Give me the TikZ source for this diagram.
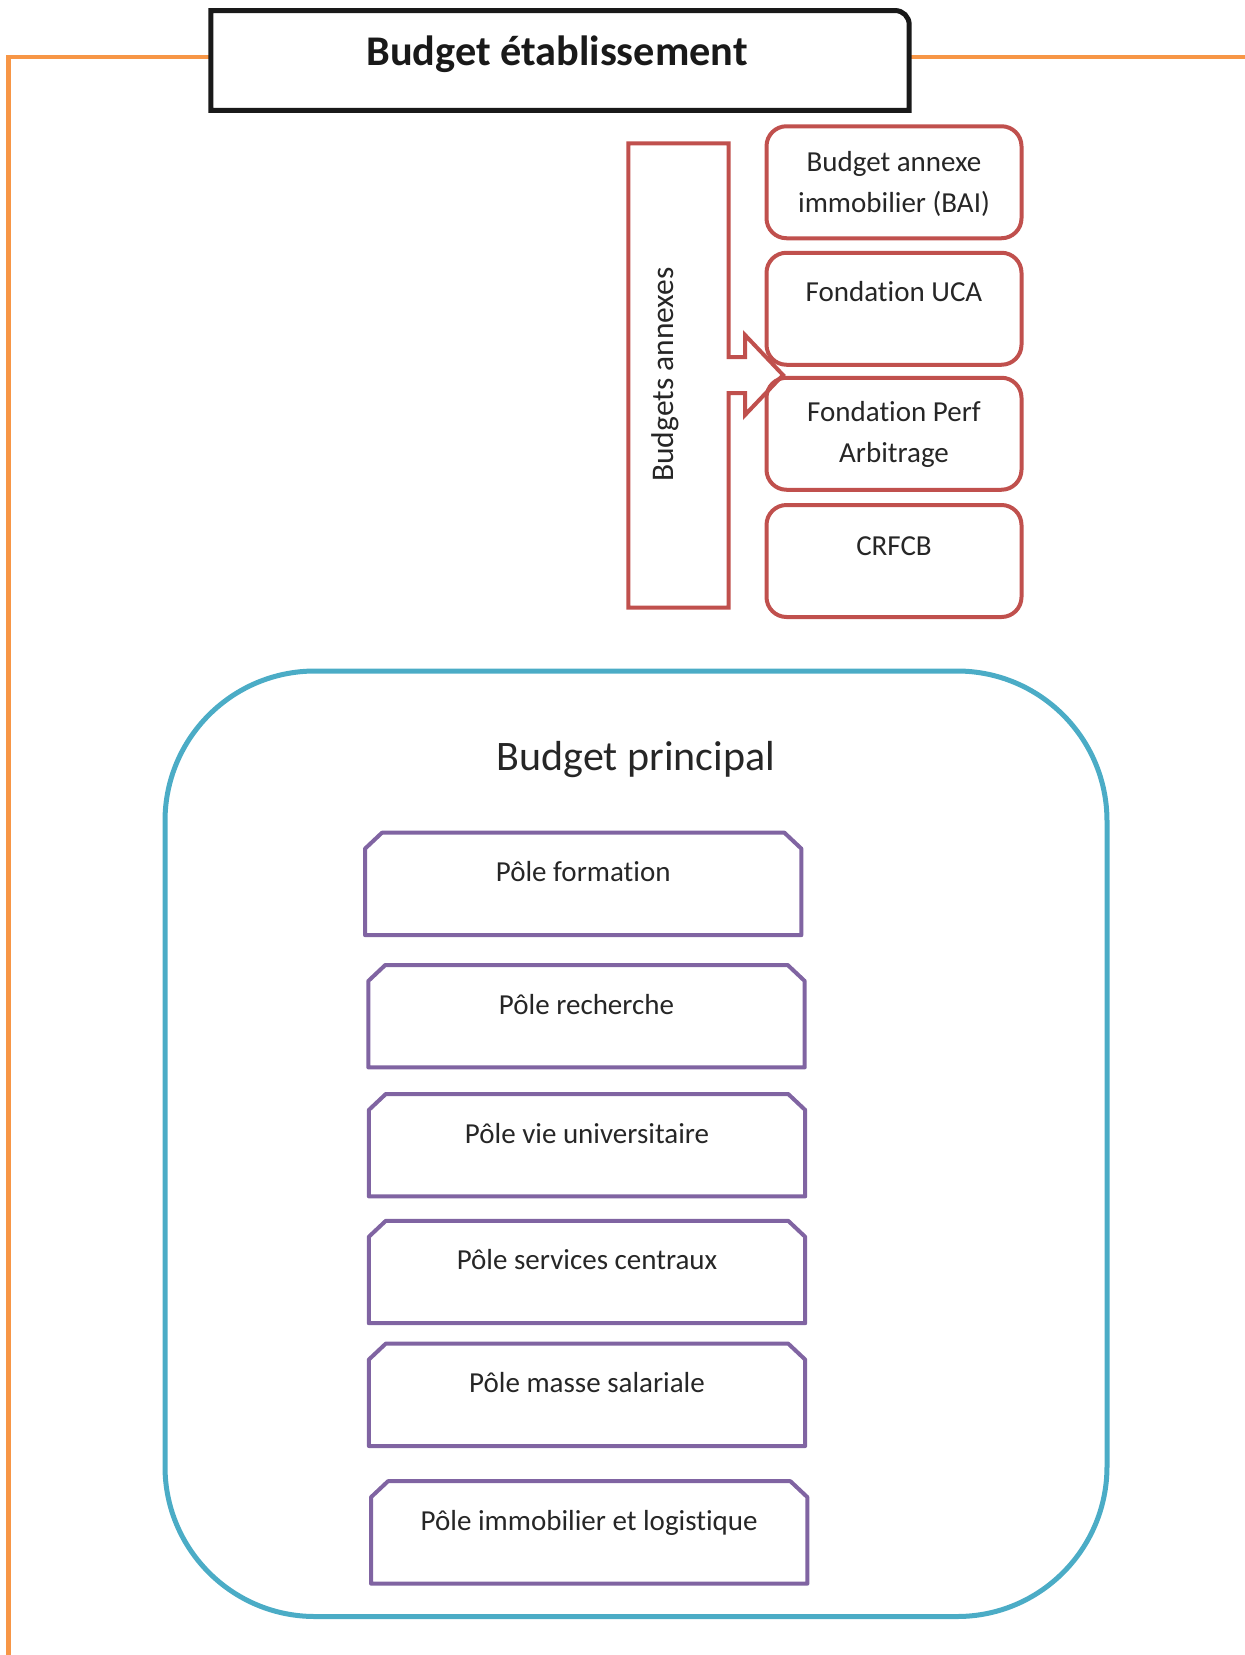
\documentclass[tikz,border=0pt]{standalone}
\usepackage{fontspec}
\setmainfont{Carlito}[Ligatures=NoCommon]
\definecolor{orangeline}{HTML}{F79646}
\definecolor{redline}{HTML}{C0504D}
\definecolor{purpline}{HTML}{8064A2}
\definecolor{tealline}{HTML}{4BACC6}
\definecolor{txtgray}{HTML}{262626}
\tikzset{
  redbox/.style={draw=redline, line width=4pt, rounded corners=20pt, minimum width=255pt, minimum height=112pt, inner sep=0pt},
  polebox/.style={minimum width=436pt, minimum height=102pt, inner sep=0pt},
  poleline/.style={draw=purpline, line width=4pt, line join=round},
  smalltxt/.style={font=\fontsize{29}{41}\selectfont, text=txtgray, inner sep=0pt, anchor=base},
  bigtxt/.style={font=\fontsize{42}{50}\selectfont, text=txtgray, inner sep=0pt, anchor=base},
}
\begin{document}
\begin{tikzpicture}[x=1pt, y=-1pt]
\useasboundingbox (0,0) rectangle (1245,1655);

% title box
\node[minimum width=698pt, minimum height=99.5pt, inner sep=0pt] (title) at (560,60.5) {};
\node[bigtxt, font=\fontsize{42.3}{50}\selectfont\bfseries, text=black!90] (titletxt) at (557,65) {Budget établissement};

% orange frame line
\coordinate (oBL) at (8.5,1655);
\coordinate (oTL) at (8.5,57);
\coordinate (oTR) at (1245,57);
\draw[orangeline, line width=4.5pt, line join=miter] (oBL) -- (oTL) -- (oTL -| title.west);
\draw[orangeline, line width=4.5pt] (oTR -| title.east) -- (oTR);

\draw[black!90, line width=5pt] (title.south west) -- (title.north west) -- ([xshift=-14pt]title.north east) arc[start angle=90, end angle=0, radius=14pt] -- (title.south east) -- cycle;

% budgets annexes
\node[minimum width=100pt, minimum height=464pt, inner sep=0pt] (annex) at (678.5,375.5) {};
\draw[redline, line width=4pt, line join=miter]
  (annex.north west) -- (annex.north east) -- (728.5,357) -- (745,357) -- (745,335) -- (783,375)
  -- (745,415) -- (745,393) -- (728.5,393) -- (annex.south east) -- (annex.south west) -- cycle;
\node[rotate=90, anchor=base, font=\fontsize{31.5}{38}\selectfont, text=txtgray, inner sep=0pt] (annextxt) at (673,374.5) {Budgets annexes};

\node[redbox] (bai) at (894,182.25) {};
\node[redbox] (fuca) at (894,308.75) {};
\node[redbox] (fperf) at (894,433.75) {};
\node[redbox] (crfcb) at (894,561) {};

\node[smalltxt] (baitxt) at (894,171.5) {\begin{tabular}[t]{@{}c@{}}Budget annexe\\immobilier (BAI)\end{tabular}};
\node[smalltxt] (fucatxt) at (894,301.7) {Fondation UCA};
\node[smalltxt] (fperftxt) at (894,421.7) {\begin{tabular}[t]{@{}c@{}}Fondation Perf\\Arbitrage\end{tabular}};
\node[smalltxt] (crfcbtxt) at (894,555) {CRFCB};

% budget principal
\node[draw=tealline, line width=5pt, rounded corners=150pt, minimum width=942pt, minimum height=945.5pt, inner sep=0pt] (main) at (636,1143.75) {};
\node[bigtxt] (maintxt) at (636,770) {Budget principal};

% poles
\foreach \n/\cx/\cy/\lab in {
  p1/583.2/883.9/{Pôle formation},
  p2/586.5/1016.2/{Pôle recherche},
  p3/587/1145.2/{Pôle vie universitaire},
  p4/587/1272/{Pôle services centraux},
  p5/587/1394.8/{Pôle masse salariale},
  p6/589.2/1532.4/{Pôle immobilier et logistique}}{
  \node[polebox] (\n) at (\cx,\cy) {};
  \draw[poleline] (\n.south west) -- ([yshift=-16pt]\n.north west) -- ([xshift=17pt]\n.north west)
    -- ([xshift=-17pt]\n.north east) -- ([yshift=-16pt]\n.north east) -- (\n.south east) -- cycle;
  \node[smalltxt] (\n txt) at ([yshift=-49pt]\n.north) {\lab};
}
\end{tikzpicture}
\end{document}
